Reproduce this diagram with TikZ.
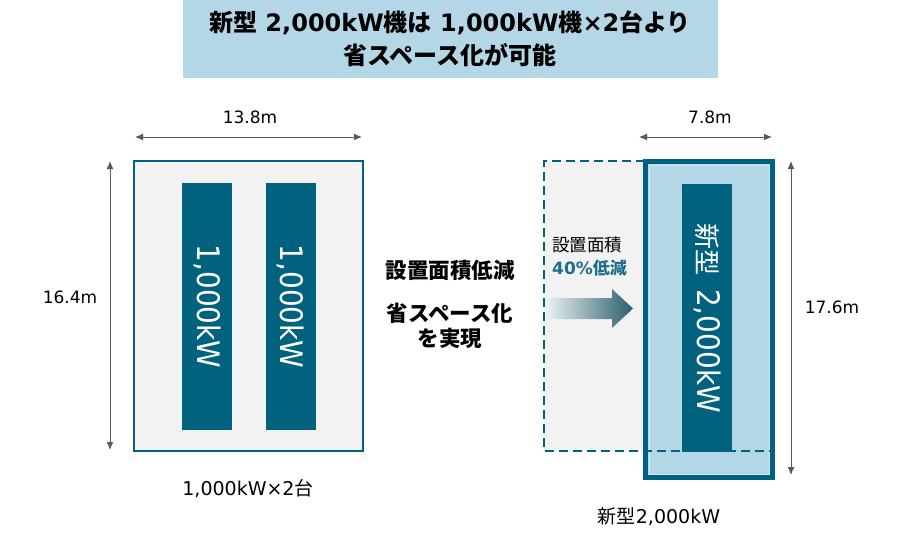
\documentclass[tikz,border=0pt]{standalone}
\usepackage{fontspec}
\setmainfont{DejaVu Sans}
\newfontfamily\jp{Noto Sans CJK JP}
\newfontfamily\narrow{DejaVu Sans Condensed}
\usetikzlibrary{arrows.meta}
\definecolor{teal}{HTML}{00627F}
\definecolor{paleblue}{HTML}{B4D7E7}
\definecolor{panel}{HTML}{F2F2F2}
\definecolor{dimgray}{HTML}{595959}
\definecolor{accent}{HTML}{1F6E8C}
\begin{document}
\begin{tikzpicture}[x=1pt,y=-1pt]

    \tikzset{
      dim/.style={
        draw=dimgray,
        line width=1pt,
        {Latex[length=8pt,width=7pt]}-{Latex[length=8pt,width=7pt]},
      },
      unit/.style={
        fill=teal,
        draw=none,
        text=white,
        rotate=-90,
        inner sep=0pt,
        minimum height=50pt,
      },
      lbl/.style={
        font=\fontsize{17}{20}\selectfont,
        inner sep=0pt,
      },
      caption/.style={
        font=\fontsize{19}{22}\selectfont,
        inner sep=0pt,
      },
      msg/.style={
        font=\jp\bfseries\fontsize{21.5}{25}\selectfont,
        inner sep=0pt,
      },
    }
    \useasboundingbox (0,0) rectangle (900,542);
    % title
    \node[fill=paleblue,minimum width=535pt,minimum height=78pt,anchor=north west] (title) at (183,0) {};
    \node[font=\bfseries\fontsize{24}{33}\selectfont,align=center,inner sep=0pt] (titletxt) at (450,38.5)
      {{\jp 新型} 2,000kW{\jp 機は} 1,000kW{\jp 機}×2{\jp 台より}\\{\jp 省スペース化が可能}};

	% old layout
	\draw[teal,line width=1.2pt,fill=panel] (134,161) rectangle (363,451);
	\node[unit,minimum width=247pt,font=\narrow\fontsize{31}{36}\selectfont] (u1) at (207,306.5) {1,000kW};
	\node[unit,minimum width=247pt,font=\narrow\fontsize{31}{36}\selectfont] (u2) at (290.5,306.5) {1,000kW};
	\coordinate (w1a) at (135,137); \coordinate (w1b) at (362,137);
	\draw[dim] (w1a) -- (w1b);
	\node[lbl] (w1) at (250,117) {13.8m};
	\coordinate (h1a) at (110,161); \coordinate (h1b) at (110,450);
	\draw[dim] (h1a) -- (h1b);
	\node[lbl] (h1) at (70,297) {16.4m};
	\node[caption] (cap1) at (248,489) {1,000kW×2{\jp 台}};

	% message
	\node[msg] (m1) at (450,270) {設置面積低減};
	\node[msg,align=center] (m2) at (450,325.5) {省スペース化\\を実現};

	% new layout
	\fill[panel] (544,161) rectangle (645,451);
	\draw[teal,line width=5pt,fill=paleblue] (645.5,161.5) rectangle (772.5,477.5);
	\draw[paleblue!60!white,line width=0.8pt] (649,165) rectangle (769,474);
	\node[unit,minimum width=268pt,font=\narrow\fontsize{31}{36}\selectfont] (u3) at (707,318)
	  {{\jp\fontsize{26}{30}\selectfont 新型}\hspace{14pt}2,000kW};
	\draw[teal,line width=2.5pt,dash pattern=on 9pt off 5pt] (645,161) -- (544,161) -- (544,451) -- (770,451);
	\coordinate (w2a) at (639,137); \coordinate (w2b) at (772,137);
	\draw[dim] (w2a) -- (w2b);
	\node[lbl] (w2) at (710,117) {7.8m};
	\coordinate (h2a) at (791,161); \coordinate (h2b) at (791,475);
	\draw[dim] (h2a) -- (h2b);
	\node[lbl] (h2) at (832,307) {17.6m};
	\node[caption] (cap2) at (659,517) {{\jp 新型}2,000kW};

	% reduction
	\node[lbl,anchor=west,font=\jp\fontsize{17.5}{20}\selectfont] (r1) at (552,245) {設置面積};
	\node[lbl,anchor=west,font=\bfseries\fontsize{17}{20}\selectfont,text=accent] (r2) at (552,268) {40\%{\jp 低減}};
	\shade[left color=teal!8!white,right color=teal!50!dimgray]
	  (546,298) -- (612,298) -- (612,289) -- (633,308.5) -- (612,328) -- (612,319) -- (546,319) -- cycle;

\end{tikzpicture}
\end{document}
